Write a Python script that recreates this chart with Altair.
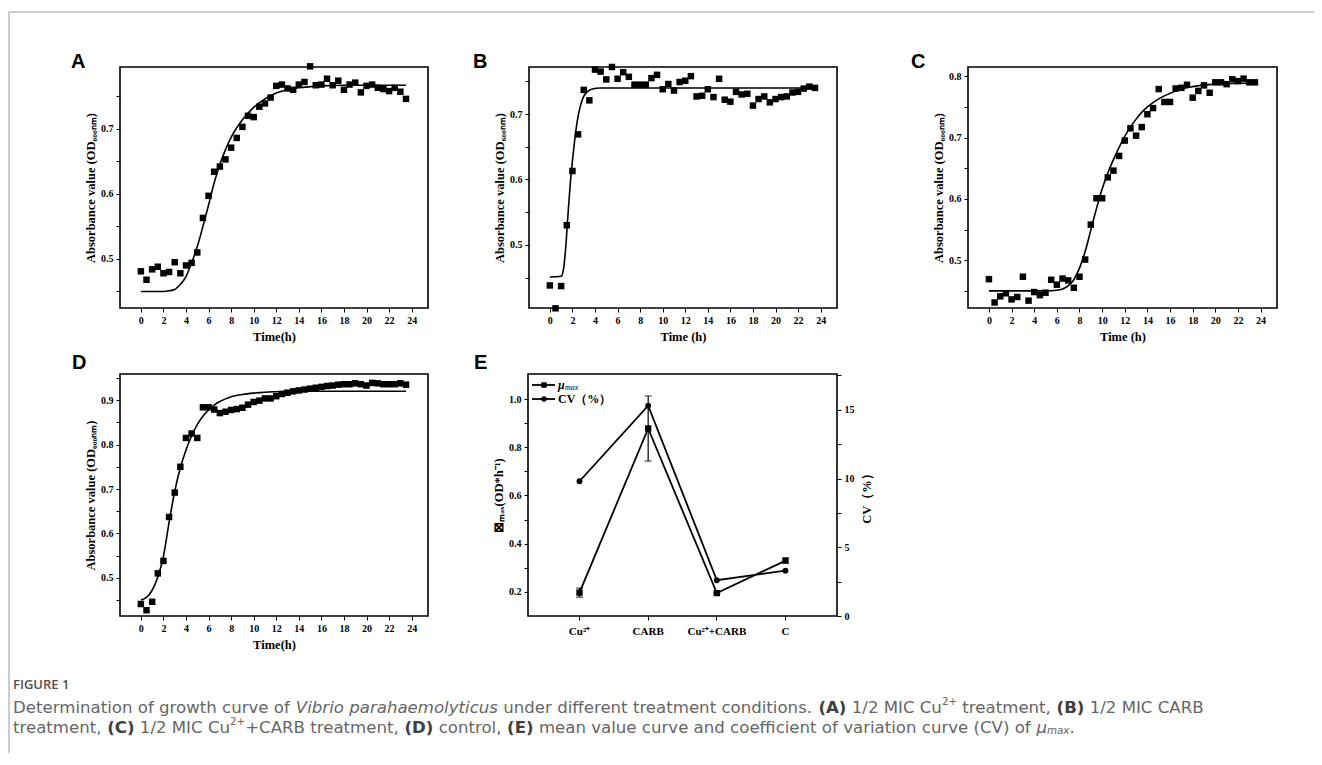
import os
import struct
import altair as alt
import pandas as pd

# ---------------- data ----------------
TIME = [0, 0.5, 1, 1.5, 2, 2.5, 3, 3.5, 4, 4.5, 5, 5.5, 6, 6.5, 7, 7.5, 8, 8.5, 9, 9.5,
        10, 10.5, 11, 11.5, 12, 12.5, 13, 13.5, 14, 14.5, 15, 15.5, 16, 16.5, 17, 17.5,
        18, 18.5, 19, 19.5, 20, 20.5, 21, 21.5, 22, 22.5, 23, 23.5]

A_OD = [0.481, 0.468, 0.484, 0.488, 0.478, 0.480, 0.495, 0.478, 0.490, 0.494, 0.510, 0.563,
        0.597, 0.634, 0.642, 0.653, 0.671, 0.686, 0.703, 0.720, 0.718, 0.734, 0.739, 0.748,
        0.766, 0.768, 0.762, 0.760, 0.768, 0.772, 0.796, 0.767, 0.768, 0.777, 0.767, 0.774,
        0.760, 0.768, 0.771, 0.756, 0.766, 0.768, 0.763, 0.761, 0.758, 0.763, 0.757, 0.746]
A_FIT_T = [0, 1, 2, 2.5, 3, 3.5, 4, 4.5, 5, 5.5, 6, 6.5, 7, 7.5, 8, 9, 10, 11, 12, 13, 14, 16, 18, 20, 23.5]
A_FIT = [0.450, 0.450, 0.450, 0.451, 0.453, 0.461, 0.473, 0.494, 0.519, 0.550, 0.583, 0.617,
         0.645, 0.668, 0.687, 0.714, 0.733, 0.746, 0.755, 0.760, 0.763, 0.766, 0.767, 0.767, 0.767]

B_OD = [0.438, 0.403, 0.437, 0.530, 0.613, 0.669, 0.737, 0.721, 0.768, 0.765, 0.753, 0.772,
        0.754, 0.764, 0.757, 0.745, 0.745, 0.745, 0.755, 0.760, 0.738, 0.746, 0.736, 0.749,
        0.751, 0.758, 0.727, 0.728, 0.738, 0.726, 0.754, 0.722, 0.719, 0.734, 0.730, 0.731,
        0.713, 0.723, 0.727, 0.718, 0.723, 0.726, 0.727, 0.733, 0.734, 0.739, 0.742, 0.740]
B_FIT_T = [0, 1.0, 1.2, 1.4, 1.6, 1.8, 2.0, 2.2, 2.4, 2.6, 2.8, 3.0, 3.3, 3.7, 4.5, 23.5]
B_FIT = [0.451, 0.452, 0.462, 0.495, 0.545, 0.592, 0.628, 0.660, 0.686, 0.705, 0.718, 0.727,
         0.734, 0.738, 0.740, 0.740]

C_OD = [0.469, 0.431, 0.441, 0.446, 0.436, 0.440, 0.473, 0.434, 0.448, 0.443, 0.447, 0.468,
        0.460, 0.470, 0.467, 0.455, 0.473, 0.501, 0.558, 0.601, 0.601, 0.635, 0.646, 0.670,
        0.695, 0.715, 0.703, 0.717, 0.738, 0.748, 0.779, 0.758, 0.758, 0.780, 0.781, 0.786,
        0.765, 0.776, 0.785, 0.773, 0.790, 0.790, 0.787, 0.795, 0.792, 0.796, 0.790, 0.790]
C_FIT_T = [0, 5, 6, 6.5, 7, 7.5, 8, 8.5, 9, 9.5, 10, 10.5, 11, 11.5, 12, 12.5, 13, 13.5, 14,
           14.5, 15, 16, 17, 18, 20, 23.5]
C_FIT = [0.450, 0.450, 0.451, 0.453, 0.458, 0.468, 0.487, 0.514, 0.549, 0.584, 0.616, 0.642,
         0.664, 0.684, 0.702, 0.717, 0.730, 0.741, 0.750, 0.757, 0.763, 0.772, 0.779, 0.783,
         0.787, 0.789]

D_OD = [0.441, 0.427, 0.446, 0.510, 0.538, 0.637, 0.692, 0.750, 0.815, 0.825, 0.815, 0.884,
        0.884, 0.879, 0.871, 0.874, 0.878, 0.880, 0.883, 0.890, 0.896, 0.899, 0.904, 0.904,
        0.909, 0.914, 0.917, 0.920, 0.922, 0.924, 0.926, 0.928, 0.930, 0.932, 0.933, 0.935,
        0.936, 0.936, 0.938, 0.936, 0.933, 0.939, 0.938, 0.936, 0.936, 0.936, 0.938, 0.935]
D_FIT_T = [0, 0.5, 1, 1.5, 2, 2.5, 3, 3.5, 4, 4.5, 5, 5.5, 6, 6.5, 7, 7.5, 8, 9, 10, 11, 12, 14, 23.5]
D_FIT = [0.450, 0.456, 0.472, 0.502, 0.548, 0.625, 0.695, 0.748, 0.788, 0.820, 0.845, 0.864,
         0.878, 0.889, 0.897, 0.903, 0.908, 0.913, 0.916, 0.918, 0.919, 0.920, 0.920]

E_CATS = ["Cu²⁺", "CARB", "Cu²⁺+CARB", "C"]
E_MU = [0.197, 0.878, 0.195, 0.330]
E_MU_ERR = [0.019, 0.135, 0.003, 0.010]
E_CV = [9.8, 15.3, 2.6, 3.3]

X_TICKS = [0, 2, 4, 6, 8, 10, 12, 14, 16, 18, 20, 22, 24]
A_YTICKS = [0.45, 0.5, 0.55, 0.6, 0.65, 0.7, 0.75]
B_YTICKS = [0.45, 0.5, 0.55, 0.6, 0.65, 0.7, 0.75]
C_YTICKS = [0.45, 0.5, 0.55, 0.6, 0.65, 0.7, 0.75, 0.8]
D_YTICKS = [0.45, 0.5, 0.55, 0.6, 0.65, 0.7, 0.75, 0.8, 0.85, 0.9, 0.95]
E_LTICKS = [0.2, 0.3, 0.4, 0.5, 0.6, 0.7, 0.8, 0.9, 1.0]
E_RTICKS = [0, 2.5, 5, 7.5, 10, 12.5, 15, 17.5]

# caption pieces: (text, style)  n=normal, i=italic, b=bold, sup=superscript, subi=italic subscript
CAPTION_1 = [("Determination of growth curve of ", "n"), ("Vibrio parahaemolyticus", "i"),
             (" under different treatment conditions. ", "n"), ("(A)", "b"), (" 1/2 MIC Cu", "n"),
             ("2+", "sup"), (" treatment, ", "n"), ("(B)", "b"), (" 1/2 MIC CARB", "n")]
CAPTION_2 = [("treatment, ", "n"), ("(C)", "b"), (" 1/2 MIC Cu", "n"), ("2+", "sup"),
             ("+CARB treatment, ", "n"), ("(D)", "b"), (" control, ", "n"), ("(E)", "b"),
             (" mean value curve and coefficient of variation curve (CV) of ", "n"),
             ("μ", "i"), ("max", "subi"), (".", "n")]

# ---------------- layout (view coordinates) ----------------
W, H = 1306, 745
SERIF = "Liberation Serif"
YTITLE = "Absorbance value (OD₆₀₀ₙₘ)"
MAJOR_EXPR = "abs(datum.value*10 - round(datum.value*10)) < 0.001 ? format(datum.value, '.1f') : ''"

one = pd.DataFrame({"k": [0]})


def growth_panel(od, fit_t, fit, xr, yr, xdom, ydom, yticks, xtitle):
    xs = alt.Scale(domain=xdom, range=xr, nice=False, zero=False)
    ys = alt.Scale(domain=ydom, range=yr, nice=False, zero=False)
    xa = alt.Axis(orient="bottom", offset=-(H - yr[0]), values=X_TICKS, format="d",
                  title=xtitle, labelFlush=False, titlePadding=5)
    ya = alt.Axis(orient="left", offset=-xr[0], values=yticks, labelExpr=MAJOR_EXPR,
                  title=YTITLE, labelFlush=False, titlePadding=3)
    pts = pd.DataFrame({"t": TIME, "od": od})
    cur = pd.DataFrame({"t": fit_t, "od": fit})
    frm = pd.DataFrame({"x1": [xdom[0]], "x2": [xdom[1]], "y1": [ydom[0]], "y2": [ydom[1]]})
    frame = alt.Chart(frm).mark_rect(fillOpacity=0, stroke="black", strokeWidth=1.6).encode(
        x=alt.X("x1:Q", scale=xs, axis=xa), x2="x2:Q",
        y=alt.Y("y1:Q", scale=ys, axis=ya), y2="y2:Q")
    line = alt.Chart(cur).mark_line(color="black", strokeWidth=1.6, interpolate="monotone").encode(
        x=alt.X("t:Q", scale=xs, axis=xa), y=alt.Y("od:Q", scale=ys, axis=ya))
    dots = alt.Chart(pts).mark_square(size=42, color="black", opacity=1).encode(
        x=alt.X("t:Q", scale=xs, axis=xa), y=alt.Y("od:Q", scale=ys, axis=ya))
    return alt.layer(frame, line, dots)


XDOM = [-1.85, 25.45]
pA = growth_panel(A_OD, A_FIT_T, A_FIT, [112, 420], [300, 59], XDOM, [0.4246, 0.795], A_YTICKS, "Time(h)")
pB = growth_panel(B_OD, B_FIT_T, B_FIT, [521, 829], [300, 59], XDOM, [0.4035, 0.772], B_YTICKS, "Time (h)")
pC = growth_panel(C_OD, C_FIT_T, C_FIT, [960, 1269], [300, 59], XDOM, [0.422, 0.815], C_YTICKS, "Time (h)")
pD = growth_panel(D_OD, D_FIT_T, D_FIT, [112, 420], [608, 366], XDOM, [0.414, 0.959], D_YTICKS, "Time(h)")

# ---------------- panel E ----------------
exr = [520, 829]
eyr = [608, 366]
exs = alt.Scale(domain=E_CATS, range=exr, padding=0.5)
eys = alt.Scale(domain=[0.1, 1.104], range=eyr, nice=False, zero=False)
ers = alt.Scale(domain=[0, 17.6], range=eyr, nice=False, zero=False)
exa = alt.Axis(orient="bottom", offset=-(H - eyr[0]), title=None, labelAngle=0,
               labelFontSize=11, labelPadding=5)
eya = alt.Axis(orient="left", offset=-exr[0], values=E_LTICKS,
               labelExpr="abs(datum.value*5 - round(datum.value*5)) < 0.001 ? format(datum.value, '.1f') : ''",
               title="⊠ₘₐₓ(OD*h⁻¹)", titlePadding=3)
era = alt.Axis(orient="right", offset=-(W - exr[1]), values=E_RTICKS,
               labelExpr="datum.value % 5 == 0 ? format(datum.value, 'd') : ''",
               title="CV（%）", titleAngle=270, titleBaseline="top", titlePadding=6)

mu_df = pd.DataFrame({"cat": E_CATS, "mu": E_MU,
                      "lo": [m - e for m, e in zip(E_MU, E_MU_ERR)],
                      "hi": [m + e for m, e in zip(E_MU, E_MU_ERR)]})
cap_df = pd.DataFrame({"cat": E_CATS * 2, "v": list(mu_df["lo"]) + list(mu_df["hi"])})
cv_df = pd.DataFrame({"cat": E_CATS, "cv": E_CV})

e_frame = alt.Chart(pd.DataFrame({"y1": [0.1], "y2": [1.104]})).mark_rect(
    fillOpacity=0, stroke="black", strokeWidth=1.6).encode(
    x=alt.value(exr[0]), x2=alt.value(exr[1]),
    y=alt.Y("y1:Q", scale=eys, axis=eya), y2="y2:Q")
mu_line = alt.Chart(mu_df).mark_line(color="black", strokeWidth=1.8).encode(
    x=alt.X("cat:N", scale=exs, axis=exa, sort=E_CATS), y=alt.Y("mu:Q", scale=eys, axis=eya))
mu_pts = alt.Chart(mu_df).mark_square(size=40, color="black", opacity=1).encode(
    x=alt.X("cat:N", scale=exs, axis=exa, sort=E_CATS), y=alt.Y("mu:Q", scale=eys, axis=eya))
mu_err = alt.Chart(mu_df).mark_rule(color="black", strokeWidth=1.2).encode(
    x=alt.X("cat:N", scale=exs, axis=exa, sort=E_CATS), y=alt.Y("lo:Q", scale=eys, axis=eya), y2="hi:Q")
mu_cap = alt.Chart(cap_df).mark_tick(color="black", size=7, thickness=1.2, orient="horizontal").encode(
    x=alt.X("cat:N", scale=exs, axis=exa, sort=E_CATS), y=alt.Y("v:Q", scale=eys, axis=eya))
left_e = alt.layer(e_frame, mu_line, mu_err, mu_cap, mu_pts)

cv_line = alt.Chart(cv_df).mark_line(color="black", strokeWidth=1.8).encode(
    x=alt.X("cat:N", scale=exs, axis=exa, sort=E_CATS), y=alt.Y("cv:Q", scale=ers, axis=era))
cv_pts = alt.Chart(cv_df).mark_circle(size=34, color="black", opacity=1).encode(
    x=alt.X("cat:N", scale=exs, axis=exa, sort=E_CATS), y=alt.Y("cv:Q", scale=ers, axis=era))
right_e = alt.layer(cv_line, cv_pts)

pE = alt.layer(left_e, right_e).resolve_scale(y="independent").resolve_axis(y="independent")

# legend of panel E
leg = [
    alt.Chart(one).mark_rule(color="black", strokeWidth=1.8).encode(
        x=alt.value(524), x2=alt.value(547), y=alt.value(377)),
    alt.Chart(one).mark_square(size=30, color="black", opacity=1).encode(
        x=alt.value(536), y=alt.value(377)),
    alt.Chart(one).mark_text(font=SERIF, fontStyle="italic", fontWeight="bold", fontSize=12,
                             align="left", baseline="middle").encode(
        x=alt.value(550), y=alt.value(377), text=alt.value("μ")),
    alt.Chart(one).mark_text(font=SERIF, fontStyle="italic", fontSize=8,
                             align="left", baseline="middle").encode(
        x=alt.value(557), y=alt.value(380), text=alt.value("max")),
    alt.Chart(one).mark_rule(color="black", strokeWidth=1.8).encode(
        x=alt.value(524), x2=alt.value(547), y=alt.value(391)),
    alt.Chart(one).mark_circle(size=30, color="black", opacity=1).encode(
        x=alt.value(536), y=alt.value(391)),
    alt.Chart(one).mark_text(font=SERIF, fontWeight="bold", fontSize=12,
                             align="left", baseline="middle").encode(
        x=alt.value(550), y=alt.value(391), text=alt.value("CV（%）")),
]


def letter(s, x, y):
    return alt.Chart(one).mark_text(font="Liberation Sans", fontWeight="bold", fontSize=20,
                                    align="left", baseline="alphabetic").encode(
        x=alt.value(x), y=alt.value(y), text=alt.value(s))


letters = [letter("A", 63, 60), letter("B", 465, 60), letter("C", 903, 60),
           letter("D", 64, 361), letter("E", 466, 361)]

# page frame lines
frame_lines = [
    alt.Chart(one).mark_rule(color="#9a9a9a", strokeWidth=1).encode(
        x=alt.value(1), y=alt.value(4), y2=alt.value(H)),
    alt.Chart(one).mark_rule(color="#9a9a9a", strokeWidth=1).encode(
        x=alt.value(1), x2=alt.value(W), y=alt.value(4)),
]


# ---------------- caption text layout (advance widths read from the installed font files) -----
class FontMetrics:
    def __init__(self, path):
        data = open(path, "rb").read()
        n = struct.unpack(">H", data[4:6])[0]
        tab = {}
        for i in range(n):
            tag, _, off, ln = struct.unpack(">4sIII", data[12 + 16 * i:28 + 16 * i])
            tab[tag.decode("latin1")] = off
        hd = tab["head"]
        self.upem = struct.unpack(">H", data[hd + 18:hd + 20])[0]
        hh = tab["hhea"]
        nhm = struct.unpack(">H", data[hh + 34:hh + 36])[0]
        hm = tab["hmtx"]
        self.adv = [struct.unpack(">H", data[hm + 4 * i:hm + 4 * i + 2])[0] for i in range(nhm)]
        cm = tab["cmap"]
        nsub = struct.unpack(">H", data[cm + 2:cm + 4])[0]
        sub = None
        for i in range(nsub):
            pid, eid, off = struct.unpack(">HHI", data[cm + 4 + 8 * i:cm + 12 + 8 * i])
            fmt = struct.unpack(">H", data[cm + off:cm + off + 2])[0]
            if fmt == 4 and (pid == 3 or pid == 0):
                sub = cm + off
        o = sub
        segx2 = struct.unpack(">H", data[o + 6:o + 8])[0]
        seg = segx2 // 2
        self.ends = struct.unpack(">%dH" % seg, data[o + 14:o + 14 + segx2])
        self.starts = struct.unpack(">%dH" % seg, data[o + 16 + segx2:o + 16 + 2 * segx2])
        self.deltas = struct.unpack(">%dh" % seg, data[o + 16 + 2 * segx2:o + 16 + 3 * segx2])
        self.rpos = o + 16 + 3 * segx2
        self.roffs = struct.unpack(">%dH" % seg, data[self.rpos:self.rpos + segx2])
        self.data = data

    def glyph(self, c):
        for i in range(len(self.ends)):
            if self.starts[i] <= c <= self.ends[i]:
                if self.roffs[i] == 0:
                    return (c + self.deltas[i]) & 0xFFFF
                addr = self.rpos + 2 * i + self.roffs[i] + 2 * (c - self.starts[i])
                g = struct.unpack(">H", self.data[addr:addr + 2])[0]
                return (g + self.deltas[i]) & 0xFFFF if g else 0
        return 0

    def width(self, s, size):
        tot = 0
        for ch in s:
            g = self.glyph(ord(ch))
            tot += self.adv[g] if g < len(self.adv) else self.adv[-1]
        return tot * size / self.upem


class Approx:
    def __init__(self, k=1.0):
        self.k = k

    def width(self, s, size):
        return sum((0.32 if c == " " else 0.62) for c in s) * size * self.k


CAP_FONT = "DejaVu Sans"
WANT = {"n": "dejavusans.ttf", "i": "dejavusans-oblique.ttf", "b": "dejavusans-bold.ttf"}


def find_fonts():
    found = {}
    for root in ["/usr/share/fonts", "/usr/local/share/fonts", os.path.expanduser("~/.fonts"),
                 os.path.expanduser("~/.local/share/fonts")]:
        if not os.path.isdir(root):
            continue
        for dp, _, files in os.walk(root):
            for f in files:
                for k, name in WANT.items():
                    if f.lower() == name:
                        found.setdefault(k, os.path.join(dp, f))
    return found


metrics = {}
try:
    paths = find_fonts()
except Exception:
    paths = {}
for key in ("n", "i", "b"):
    try:
        metrics[key] = FontMetrics(paths[key])
    except Exception:
        metrics[key] = Approx(1.1 if key == "b" else 1.0)

STYLE_KEY = {"n": "n", "i": "i", "b": "b", "sup": "n", "subi": "i"}
CAP_X0 = 5
unit_w = 0.0
for txt, st in CAPTION_1:
    unit_w += metrics[STYLE_KEY[st]].width(txt, 0.62 if st in ("sup", "subi") else 1.0)
CAP_SIZE = max(13.5, min(16.6, 1222.0 / unit_w))


def caption_line(parts, y):
    out = []
    x = CAP_X0
    for txt, st in parts:
        k = STYLE_KEY[st]
        size = CAP_SIZE * (0.62 if st in ("sup", "subi") else 1.0)
        lead = len(txt) - len(txt.lstrip(" "))
        shown = txt.strip(" ")
        xs = x + metrics[k].width(" " * lead, size)
        dy = -0.34 * CAP_SIZE if st == "sup" else (0.2 * CAP_SIZE if st == "subi" else 0)
        if shown:
            out.append(alt.Chart(one).mark_text(
                font=CAP_FONT, fontSize=size,
                fontStyle="italic" if k == "i" else "normal",
                fontWeight="bold" if k == "b" else "normal",
                color="#404040" if k == "b" else "#666666",
                align="left", baseline="middle", dy=dy).encode(
                x=alt.value(xs), y=alt.value(y), text=alt.value(shown)))
        x += metrics[k].width(txt, size)
    return out


caption = [alt.Chart(one).mark_text(font="Open Sans", fontWeight=600, fontSize=13, color="#505050",
                                    align="left", baseline="middle").encode(
    x=alt.value(CAP_X0), y=alt.value(677), text=alt.value("FIGURE 1"))]
caption += caption_line(CAPTION_1, 700)
caption += caption_line(CAPTION_2, 720)

chart = alt.layer(pA, pB, pC, pD, pE, *leg, *letters, *frame_lines, *caption).resolve_scale(
    x="independent", y="independent").resolve_axis(x="independent", y="independent").properties(
    width=W, height=H, autosize=alt.AutoSizeParams(type="none"), padding=0
).configure_view(stroke=None).configure_axis(
    grid=False, domain=False, tickColor="black", tickSize=4, tickWidth=1,
    labelFont=SERIF, labelFontWeight="bold", labelFontSize=10, labelColor="black", labelPadding=3,
    titleFont=SERIF, titleFontWeight="bold", titleFontSize=12.5, titleColor="black"
)

chart.save("out.html", embed_options={"renderer": "svg", "actions": False})
